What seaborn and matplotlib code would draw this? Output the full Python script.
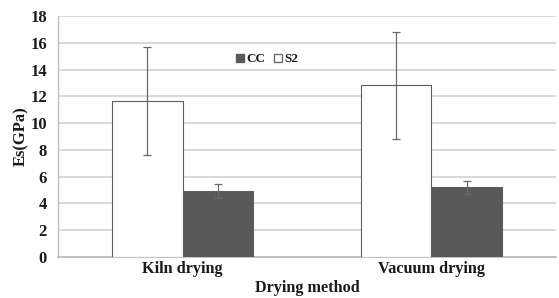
import matplotlib
matplotlib.use("Agg")
import matplotlib.pyplot as plt
import seaborn as sns
import pandas as pd
from matplotlib.patches import Patch

categories = ["Kiln drying", "Vacuum drying"]
series = ["S2", "CC"]
s2_values = [11.67, 12.82]
s2_err = [4.05, 3.97]
cc_values = [4.90, 5.20]
cc_err = [0.53, 0.49]
yticks = [0, 2, 4, 6, 8, 10, 12, 14, 16, 18]

df = pd.DataFrame({
    "method": categories * 2,
    "series": ["S2"] * 2 + ["CC"] * 2,
    "value": s2_values + cc_values,
    "err": s2_err + cc_err,
})

sns.set_theme(style="white")
plt.rcParams["font.family"] = ["Liberation Serif", "DejaVu Serif"]
plt.rcParams["font.weight"] = "bold"

fig = plt.figure(figsize=(5.59, 2.98), dpi=100)
ax = fig.add_axes([0.1038, 0.1376, 0.8908, 0.8087])

palette = {"S2": "white", "CC": "#595959"}
sns.barplot(data=df, x="method", y="value", hue="series", hue_order=series,
            order=categories, palette=palette, width=0.566, errorbar=None,
            edgecolor="#5e5e5e", linewidth=0.8, ax=ax, legend=False, zorder=3)

errs = {}
for s in series:
    for c in categories:
        errs[(s, c)] = df[(df.series == s) & (df.method == c)]["err"].values[0]
i = 0
for s in series:
    for c in categories:
        p = ax.patches[i]
        xc = p.get_x() + p.get_width() / 2
        ax.errorbar(xc, p.get_height(), yerr=errs[(s, c)], fmt="none",
                    ecolor="#6a6a6a", elinewidth=0.9, capsize=3, capthick=0.9, zorder=4)
        i += 1

ax.set_xlim(-0.5, 1.5)
ax.set_ylim(0, 18)
ax.set_yticks(yticks)
ax.yaxis.grid(True, color="#d6d6d6", linewidth=1.3, zorder=0)
ax.set_axisbelow(True)
for side in ["top", "right"]:
    ax.spines[side].set_visible(False)
ax.spines["left"].set_color("#bdbdbd")
ax.spines["bottom"].set_color("#bdbdbd")
ax.spines["left"].set_linewidth(1.0)
ax.spines["bottom"].set_linewidth(1.3)
ax.tick_params(axis="y", length=0, pad=8, labelsize=12, colors="#1a1a1a")
ax.tick_params(axis="x", length=0, pad=3, labelsize=11.7, colors="#1a1a1a")
for lab in ax.get_xticklabels() + ax.get_yticklabels():
    lab.set_fontweight("bold")
ax.set_xlabel("Drying method", fontsize=11.7, fontweight="bold", color="#1a1a1a", labelpad=2)
ax.set_ylabel("Es(GPa)", fontsize=12, fontweight="bold", color="#1a1a1a", labelpad=1)

handles = [Patch(facecolor="#595959", edgecolor="#595959", label="CC"),
           Patch(facecolor="white", edgecolor="#6e6e6e", label="S2")]
ax.legend(handles=handles, ncol=2, frameon=False, loc="center",
          bbox_to_anchor=(0.42, 0.82), handlelength=0.6, handleheight=0.6,
          handletextpad=0.2, columnspacing=0.6, prop={"size": 9.5, "weight": "bold"},
          labelcolor="#1a1a1a")

fig.savefig("out.png", dpi=100)
